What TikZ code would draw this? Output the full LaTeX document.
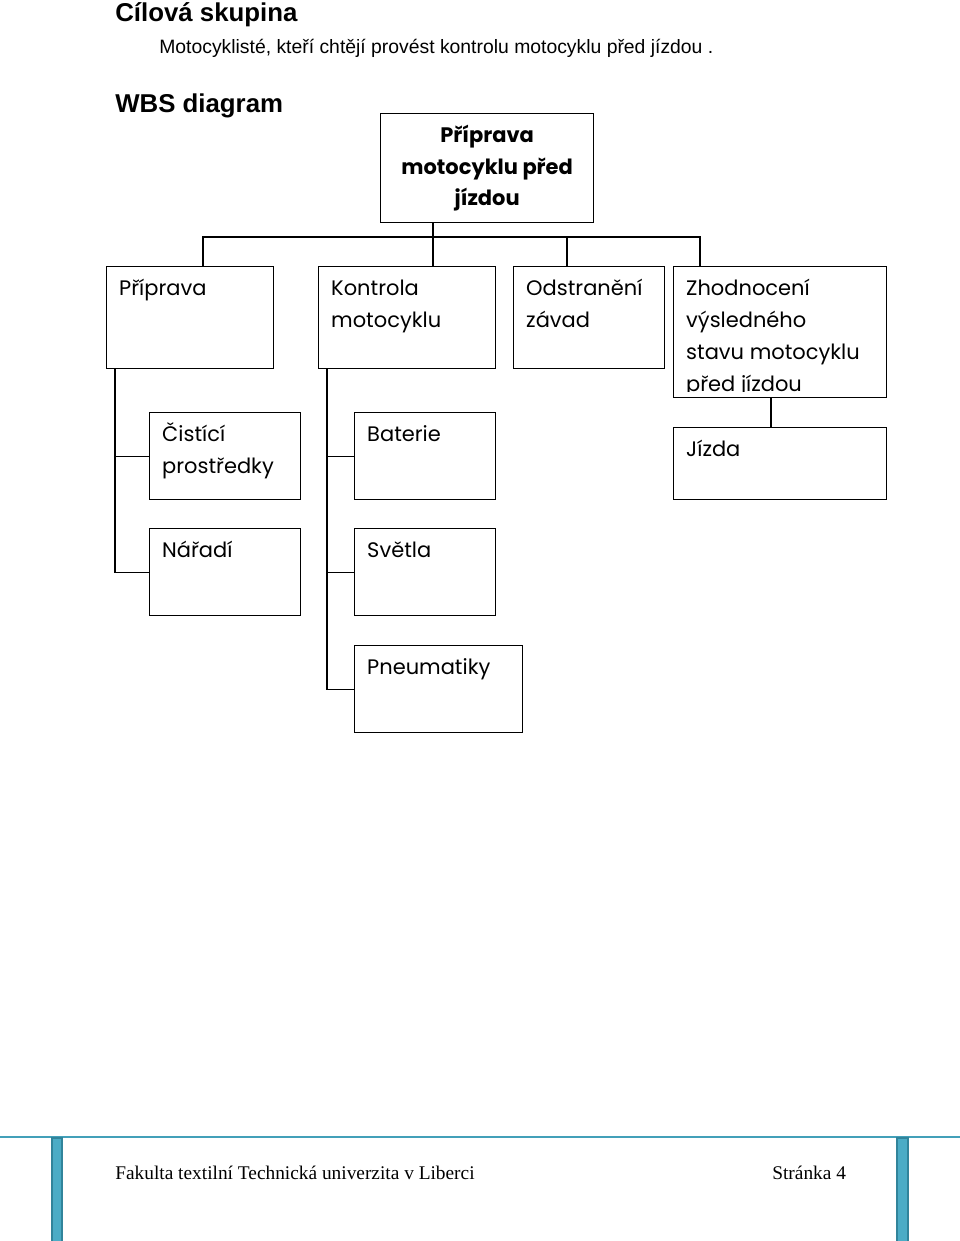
\documentclass[tikz,border=0pt]{standalone}
\usepackage{fontspec}
\setmainfont{Liberation Serif}
\newfontfamily\headfont{Liberation Sans}
\newfontfamily\wbsfont{Poppins}
\usetikzlibrary{positioning,calc}
\definecolor{ftblue}{RGB}{75,172,198}
\definecolor{ftdark}{RGB}{49,132,155}
\def\px{0.62pt}

\begin{document}
\begin{tikzpicture}[x=0.62pt,y=-0.62pt,
    wbsbox/.style 2 args={draw=black,line width=0.8pt,anchor=north west,
                  inner sep=0pt,minimum width=#1*\px,minimum height=#2*\px},
    boxtext/.style={below right=4.3pt and 8pt of #1,inner sep=0pt,align=left,
                  font=\wbsfont\fontsize{13}{19.8}\selectfont},
    link/.style={draw=black,line width=0.8pt},
    head/.style={anchor=base west,inner sep=0pt,font=\headfont\bfseries\fontsize{16}{18}\selectfont},
    foot/.style={anchor=base west,inner sep=0pt,font=\fontsize{12}{14}\selectfont}]
  \useasboundingbox (0,0) rectangle (960,1241);

  % headings
  \node[head] (title) at (115,21) {Cílová skupina};
  \node[anchor=base west,inner sep=0pt,font=\headfont\fontsize{12}{14}\selectfont]
    (target) at (159,53) {Motocyklisté, kteří chtějí provést kontrolu motocyklu před jízdou .};
  \node[head] (wbs) at (115,112) {WBS diagram};

  % top of the tree
  \node[wbsbox={213}{109},align=center,
        font=\wbsfont\bfseries\fontsize{13}{19.8}\selectfont]
    (root) at (380,113) {Příprava\\motocyklu před\\jízdou};

  % second level
  \node[wbsbox={167}{102}] (prip) at (106,266) {};
  \node[wbsbox={177}{102}] (kont) at (318,266) {};
  \node[wbsbox={151}{102}] (odst) at (513,266) {};
  \node[wbsbox={213}{131}] (zhod) at (673,266) {};
  \node[boxtext=prip.north west] (prip-t) {\strut Příprava};
  \node[boxtext=kont.north west] (kont-t) {\strut Kontrola\\motocyklu};
  \node[boxtext=odst.north west] (odst-t) {\strut Odstranění\\závad};
  \begin{scope}
    \clip (zhod.north west) rectangle ($(zhod.south east)+(0,-7)$);
    \node[boxtext=zhod.north west] (zhod-t)
      {\strut Zhodnocení\\výsledného\\stavu motocyklu\\před jízdou};
  \end{scope}

  % third level
  \node[wbsbox={151}{87}] (cist) at (149,412) {};
  \node[wbsbox={151}{87}] (nara) at (149,528) {};
  \node[wbsbox={141}{87}] (bate) at (354,412) {};
  \node[wbsbox={141}{87}] (svet) at (354,528) {};
  \node[wbsbox={168}{87}] (pneu) at (354,645) {};
  \node[wbsbox={213}{72}] (jizd) at (673,427) {};
  \node[boxtext=cist.north west] (cist-t) {\strut Čistící\\prostředky};
  \node[boxtext=nara.north west] (nara-t) {\strut Nářadí};
  \node[boxtext=bate.north west] (bate-t) {\strut Baterie};
  \node[boxtext=svet.north west] (svet-t) {\strut Světla};
  \node[boxtext=pneu.north west] (pneu-t) {\strut Pneumatiky};
  \node[boxtext=jizd.north west] (jizd-t) {\strut Jízda};

  % connectors
  \coordinate (trunk) at (433,237);
  \coordinate (busL) at (203,237);
  \coordinate (busR) at (700,237);
  \coordinate (drop) at (567,237);
  \coordinate (spineP) at (115,0);
  \coordinate (spineK) at (327,0);
  \coordinate (spineZ) at (771,0);
  \draw[link] (trunk |- root.south) -- (trunk |- kont.north);
  \draw[link] (busL |- prip.north) -- (busL) -- (busR) -- (busR |- zhod.north);
  \draw[link] (drop) -- (drop |- odst.north);
  \draw[link] (spineP |- prip.south) -- (spineP |- nara.west) -- (nara.west);
  \draw[link] (spineP |- cist.west) -- (cist.west);
  \draw[link] (spineK |- kont.south) -- (spineK |- pneu.west) -- (pneu.west);
  \draw[link] (spineK |- bate.west) -- (bate.west);
  \draw[link] (spineK |- svet.west) -- (svet.west);
  \draw[link] (spineZ |- zhod.south) -- (spineZ |- jizd.north);

  % footer
  \draw[ftblue!70!ftdark,line width=1pt] (0,1137) -- (960,1137);
  \filldraw[fill=ftblue,draw=ftdark,line width=0.7pt] (52,1138) rectangle (62,1245);
  \filldraw[fill=ftblue,draw=ftdark,line width=0.7pt] (897,1138) rectangle (908,1245);
  \node[foot] (faculty) at (115,1179) {Fakulta textilní Technická univerzita v Liberci};
  \node[foot] (page) at (772,1179) {Stránka 4};
\end{tikzpicture}
\end{document}
